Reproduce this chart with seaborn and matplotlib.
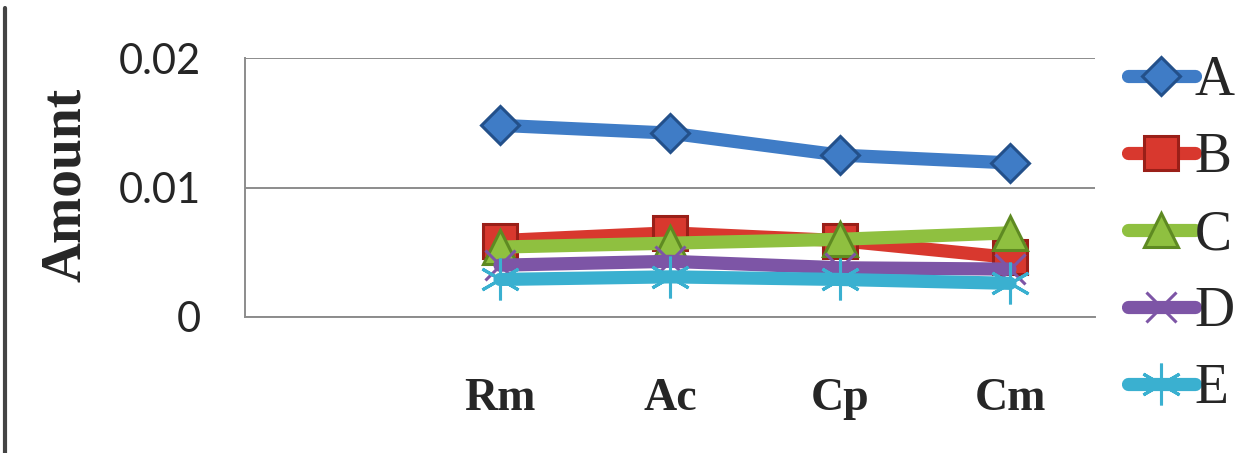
import numpy as np
import pandas as pd
import matplotlib
matplotlib.use("Agg")
import matplotlib.pyplot as plt
from matplotlib.lines import Line2D
import seaborn as sns

# data (first category slot is empty)
categories = ["", "Rm", "Ac", "Cp", "Cm"]
series = ["A", "B", "C", "D", "E"]
a_vals = [0.0148, 0.0142, 0.0125, 0.0119]
b_vals = [0.0059, 0.0065, 0.0059, 0.0046]
c_vals = [0.0054, 0.0057, 0.0060, 0.0065]
d_vals = [0.0040, 0.0043, 0.0038, 0.0037]
e_vals = [0.0029, 0.0031, 0.0029, 0.0026]

rows = []
for name, vals in zip(series, [a_vals, b_vals, c_vals, d_vals, e_vals]):
    for cat, v in zip(categories[1:], vals):
        rows.append({"series": name, "pos": categories.index(cat), "amount": v})
df = pd.DataFrame(rows)

colors = {"A": "#3f7cc6", "B": "#d8382e", "C": "#8fc040", "D": "#7d55a6", "E": "#3ab0d0"}
edges = {"A": "#23508a", "B": "#9a1f18", "C": "#5e8a22", "D": "#7d55a6", "E": "#3ab0d0"}
markers = {"A": "D", "B": "s", "C": "^", "D": "x", "E": (6, 2, 0)}
msizes = {"A": 19, "B": 24, "C": 24, "D": 22, "E": 30}

sns.set_style("white")
plt.rcParams["font.family"] = ["Liberation Serif", "DejaVu Serif"]

fig = plt.figure(figsize=(12.55, 4.53), dpi=100)
ax = fig.add_axes([245 / 1255, 1 - 317 / 453, 850 / 1255, 259 / 453])

for name in series:
    sub = df[df["series"] == name]
    sns.lineplot(data=sub, x="pos", y="amount", ax=ax, color=colors[name],
                 marker=markers[name], markersize=msizes[name],
                 markerfacecolor=colors[name], markeredgecolor=edges[name],
                 markeredgewidth=2.2, linewidth=9.5, solid_capstyle="round",
                 errorbar=None, legend=False)

ax.set_xlim(-0.5, len(categories) - 0.5)
ax.set_ylim(0, 0.02)
ax.set_xticks(range(len(categories)))
ax.set_xticklabels(categories, fontsize=33, fontweight="bold")
ax.set_yticks([0, 0.01, 0.02])
ax.set_yticklabels(["0", "0.01", "0.02"], fontsize=30, family="Lato")
ax.tick_params(axis="y", length=0, pad=32)
ax.tick_params(axis="x", length=0, pad=44)
ax.set_xlabel("")
ax.set_ylabel("Amount", fontsize=40, fontweight="bold")
ax.yaxis.set_label_coords(-0.18, 0.51)

ax.grid(axis="y", color="#8c8c8c", linewidth=1.4)
ax.grid(axis="x", visible=False)
for side in ["top", "right"]:
    ax.spines[side].set_visible(False)
for side in ["left", "bottom"]:
    ax.spines[side].set_color("#8c8c8c")
    ax.spines[side].set_linewidth(1.4)

leg = ax.legend(handles=ax.lines[:len(series)], labels=series,
                loc="center left", bbox_to_anchor=(1128 / 1255, 1 - 235 / 453),
                bbox_transform=fig.transFigure, frameon=False, fontsize=40,
                handlelength=1.2, handletextpad=0.0, labelspacing=0.45,
                borderpad=0, borderaxespad=0)

# dark frame line on the left edge of the image
fig.add_artist(Line2D([5 / 1255, 5 / 1255], [0, 1 - 8 / 453],
                      transform=fig.transFigure, color="#444444", linewidth=3))

fig.savefig("out.png", dpi=100)
